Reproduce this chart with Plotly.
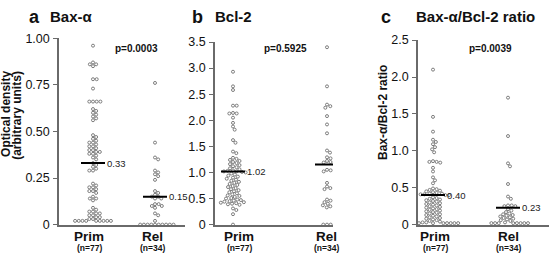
import numpy as np
import plotly.graph_objects as go

W, H = 550, 260

# ---------------- data ----------------
groups = ["Prim", "Rel"]
group_n = ["(n=77)", "(n=34)"]

bax_prim = [0.96, 0.87, 0.86, 0.86, 0.85, 0.78, 0.78, 0.73, 0.66, 0.66, 0.66, 0.66,
            0.62, 0.61, 0.60, 0.59, 0.58, 0.57, 0.56,
            0.48, 0.47, 0.46, 0.45, 0.44, 0.44, 0.43, 0.42, 0.42, 0.41, 0.40, 0.40,
            0.39, 0.39, 0.38, 0.38, 0.37, 0.36, 0.35, 0.33,
            0.32, 0.31, 0.30, 0.29, 0.29,
            0.22, 0.21, 0.20, 0.20, 0.19, 0.18, 0.18, 0.17,
            0.15, 0.14, 0.14, 0.13,
            0.09, 0.08, 0.07, 0.07, 0.06, 0.06, 0.05, 0.05, 0.04, 0.04,
            0.03, 0.03, 0.02, 0.02, 0.02, 0.02, 0.02, 0.02, 0.02, 0.02, 0.02]
bax_rel = [0.76, 0.44, 0.36, 0.35, 0.29, 0.28, 0.27, 0.26, 0.24,
           0.18, 0.17, 0.16, 0.15, 0.15, 0.14, 0.14,
           0.11, 0.11, 0.10, 0.10, 0.09, 0.06, 0.05, 0.02,
           0.0, 0.0, 0.0, 0.0, 0.0, 0.0, 0.0, 0.0, 0.0, 0.0]

bcl_prim = [2.93, 2.65, 2.58, 2.28, 2.28, 2.14, 2.13, 2.13, 2.05, 1.95, 1.88, 1.82,
            1.62, 1.57, 1.40, 1.37,
            1.28, 1.26, 1.24, 1.22, 1.20, 1.18, 1.16, 1.14, 1.12, 1.10,
            1.08, 1.06, 1.04, 1.03, 1.02, 1.02, 1.01, 1.00, 0.98, 0.96, 0.94, 0.92, 0.90,
            0.88, 0.86, 0.84, 0.82, 0.80, 0.78, 0.76, 0.74, 0.72, 0.70, 0.68, 0.66, 0.64, 0.62,
            0.60, 0.58, 0.56, 0.55, 0.53, 0.51, 0.50, 0.48, 0.47, 0.46, 0.45, 0.44,
            0.43, 0.42, 0.41, 0.40, 0.39, 0.38,
            0.31, 0.28, 0.20, 0.0]
bcl_rel = [3.40, 2.65, 2.30, 2.27, 2.24, 2.08, 1.92, 1.75, 1.42, 1.38, 1.29, 1.27,
           1.22, 1.20, 1.19, 1.17,
           1.05, 1.04, 1.02, 1.01,
           0.80, 0.73, 0.70, 0.68,
           0.48, 0.46, 0.43, 0.40, 0.37, 0.35, 0.33,
           0.0, 0.0, 0.0]

ratio_prim = [2.10, 1.46, 1.26, 1.15, 1.12, 1.09, 1.05, 1.02, 0.98,
              0.86, 0.85, 0.85, 0.84,
              0.77, 0.72, 0.64, 0.60, 0.56,
              0.49, 0.48, 0.47, 0.46, 0.45, 0.44, 0.43,
              0.42, 0.42, 0.41, 0.41, 0.40, 0.40, 0.40,
              0.37, 0.36, 0.35, 0.34, 0.33, 0.32, 0.31, 0.30, 0.29, 0.28, 0.27, 0.26,
              0.25, 0.24, 0.23, 0.22, 0.21, 0.20, 0.19, 0.18, 0.17, 0.16, 0.15, 0.14,
              0.13, 0.12, 0.11, 0.10, 0.09, 0.08, 0.07, 0.06, 0.05, 0.04,
              0.03, 0.03, 0.02, 0.02, 0.02, 0.02, 0.02, 0.02, 0.02, 0.02, 0.02]
ratio_rel = [1.72, 1.20, 0.83, 0.79, 0.55, 0.38, 0.35,
             0.26, 0.26, 0.25, 0.25,
             0.21, 0.19, 0.17, 0.15, 0.14, 0.13, 0.12, 0.11, 0.10, 0.09, 0.08, 0.07,
             0.06, 0.05,
             0.03, 0.02, 0.02, 0.02, 0.02, 0.02, 0.02, 0.02, 0.02]

bax_medians = [0.33, 0.15]
bcl_medians = [1.02, 1.15]
ratio_medians = [0.40, 0.23]

p_values = ["p=0.0003", "p=0.5925", "p=0.0039"]
panel_letters = ["a", "b", "c"]
panel_titles = ["Bax-α", "Bcl-2", "Bax-α/Bcl-2 ratio"]

bax_ticks = [0, 0.25, 0.5, 0.75, 1.0]
bax_ticktext = ["0", "0.25", "0.50", "0.75", "1.00"]
bcl_ticks = [0, 0.5, 1.0, 1.5, 2.0, 2.5, 3.0, 3.5]
bcl_ticktext = ["0", "0.5", "1.0", "1.5", "2.0", "2.5", "3.0", "3.5"]
ratio_ticks = [0, 0.5, 1.0, 1.5, 2.0, 2.5]
ratio_ticktext = ["0", "0.5", "1.0", "1.5", "2.0", "2.5"]

# ---------------- layout geometry (pixels) ----------------
panels = [
    dict(series=[bax_prim, bax_rel], med=bax_medians, ticks=bax_ticks, ticktext=bax_ticktext,
         ax0=59, ax1=185, gx=(93, 155), ytop=33, ybot=230, ymax=1.0,
         letter_x=34, title_x=48, p_x=136, lab_dx=(-4, -3)),
    dict(series=[bcl_prim, bcl_rel], med=bcl_medians, ticks=bcl_ticks, ticktext=bcl_ticktext,
         ax0=215, ax1=333, gx=(233, 327), ytop=37, ybot=230, ymax=3.5,
         letter_x=197, title_x=213, p_x=285, lab_dx=(6, -1)),
    dict(series=[ratio_prim, ratio_rel], med=ratio_medians, ticks=ratio_ticks, ticktext=ratio_ticktext,
         ax0=418, ax1=549, gx=(433, 508), ytop=35, ybot=230, ymax=2.5,
         letter_x=386, title_x=414, p_x=490, lab_dx=(2, 0)),
]

FONT = "Liberation Sans, Arial, Helvetica, sans-serif"
AXC = "#6a6a6a"
DOTC = "#707070"
D = 3.7  # dot spacing in px


def swarm(values, ppx, ppy, d=D):
    """Deterministic beeswarm: each dot takes the admissible x closest to the centre."""
    vals = np.asarray(values, dtype=float)
    order = np.argsort(-vals, kind="stable")
    placed = []
    offs = np.zeros(len(vals))
    for i in order:
        y = vals[i] * ppy
        nb = [(px, py) for px, py in placed if abs(py - y) < d]
        cands = [0.0]
        for px, py in nb:
            w = np.sqrt(d * d - (py - y) ** 2)
            cands += [px - w, px + w]
        ok = [c for c in cands
              if all((c - px) ** 2 + (y - py) ** 2 >= d * d - 1e-6 for px, py in nb)]
        c = min(ok, key=lambda v: (round(abs(v), 6), v < 0))
        placed.append((c, y))
        offs[i] = c / ppx
    return offs


fig = go.Figure()
annotations = []
shapes = []

for k, pn in enumerate(panels):
    ax = "" if k == 0 else str(k + 1)
    ppx = pn["gx"][1] - pn["gx"][0]
    ppy = (pn["ybot"] - pn["ytop"]) / pn["ymax"]
    xr0 = -(pn["gx"][0] - pn["ax0"]) / ppx
    xr1 = 1 + (pn["ax1"] - pn["gx"][1]) / ppx

    for g, vals in enumerate(pn["series"]):
        offs = swarm(vals, ppx, ppy)
        fig.add_trace(go.Scatter(
            x=g + offs, y=vals, mode="markers",
            marker=dict(symbol="circle-open", size=3.0, color=DOTC, line=dict(width=0.9, color=DOTC)),
            cliponaxis=False, showlegend=False, xaxis="x" + ax, yaxis="y" + ax))
        m = pn["med"][g]
        hw = 12 / ppx
        shapes.append(dict(type="line", xref="x" + ax, yref="y" + ax,
                           x0=g - hw, x1=g + hw, y0=m, y1=m,
                           line=dict(color="black", width=2)))
        annotations.append(dict(xref="x" + ax, yref="y" + ax, x=g + hw, y=m,
                                text=f"{m:.2f}", showarrow=False, xanchor="left",
                                yanchor="middle", xshift=0,
                                font=dict(family=FONT, size=9.5, color="#222")))
        # category labels
        annotations.append(dict(xref="x" + ax, yref="paper", x=g, y=1 - 243 / H,
                                text=f"<b>{groups[g]}</b>", showarrow=False,
                                xanchor="center", yanchor="middle", xshift=pn["lab_dx"][g],
                                font=dict(family=FONT, size=13.5, color="#111")))
        annotations.append(dict(xref="x" + ax, yref="paper", x=g, y=1 - 255 / H,
                                text=f"<b>{group_n[g]}</b>", showarrow=False,
                                xanchor="center", yanchor="middle", xshift=pn["lab_dx"][g],
                                font=dict(family=FONT, size=8.5, color="#111")))

    fig.update_layout(**{
        "xaxis" + ax: dict(domain=[pn["ax0"] / W, pn["ax1"] / W], range=[xr0, xr1],
                           showline=True, linecolor=AXC, linewidth=1.5, ticks="",
                           showticklabels=False, showgrid=False, zeroline=False,
                           anchor="y" + ax, fixedrange=True),
        "yaxis" + ax: dict(domain=[(H - pn["ybot"]) / H, (H - pn["ytop"]) / H],
                           range=[0, pn["ymax"]], tickvals=pn["ticks"], ticktext=pn["ticktext"],
                           showline=True, linecolor=AXC, linewidth=1.5, ticks="outside",
                           ticklen=4, tickwidth=1.2, tickcolor=AXC, showgrid=False,
                           zeroline=False, anchor="x" + ax, ticklabelstandoff=1,
                           tickfont=dict(family=FONT, size=12.5, color="#111"), fixedrange=True),
    })

    annotations.append(dict(xref="paper", yref="paper", x=pn["letter_x"] / W, y=1 - 11 / H,
                            text=f"<b>{panel_letters[k]}</b>", showarrow=False,
                            xanchor="center", yanchor="middle",
                            font=dict(family=FONT, size=18, color="#111")))
    annotations.append(dict(xref="paper", yref="paper", x=pn["title_x"] / W, y=1 - 10 / H,
                            text=f"<b>{panel_titles[k]}</b>", showarrow=False,
                            xanchor="left", yanchor="middle",
                            font=dict(family=FONT, size=15, color="#111")))
    annotations.append(dict(xref="paper", yref="paper", x=pn["p_x"] / W, y=1 - 44 / H,
                            text=f"<b>{p_values[k]}</b>", showarrow=False,
                            xanchor="center", yanchor="middle",
                            font=dict(family=FONT, size=10, color="#111")))

# y-axis titles
annotations.append(dict(xref="paper", yref="paper", x=6 / W, y=1 - 113 / H,
                        text="<b>Optical density</b>", showarrow=False, textangle=-90,
                        xanchor="center", yanchor="middle",
                        font=dict(family=FONT, size=12, color="#111")))
annotations.append(dict(xref="paper", yref="paper", x=17 / W, y=1 - 115 / H,
                        text="<b>(arbitrary units)</b>", showarrow=False, textangle=-90,
                        xanchor="center", yanchor="middle",
                        font=dict(family=FONT, size=12, color="#111")))
annotations.append(dict(xref="paper", yref="paper", x=383 / W, y=1 - 112 / H,
                        text="<b>Bax-α/Bcl-2 ratio</b>", showarrow=False, textangle=-90,
                        xanchor="center", yanchor="middle",
                        font=dict(family=FONT, size=12, color="#111")))

fig.update_layout(width=W, height=H, margin=dict(l=0, r=0, t=0, b=0),
                  paper_bgcolor="white", plot_bgcolor="white",
                  annotations=annotations, shapes=shapes, showlegend=False)

fig.write_html("out.html", config={"displayModeBar": False},
               post_script="document.body.style.margin='0';document.body.style.overflow='hidden';")
